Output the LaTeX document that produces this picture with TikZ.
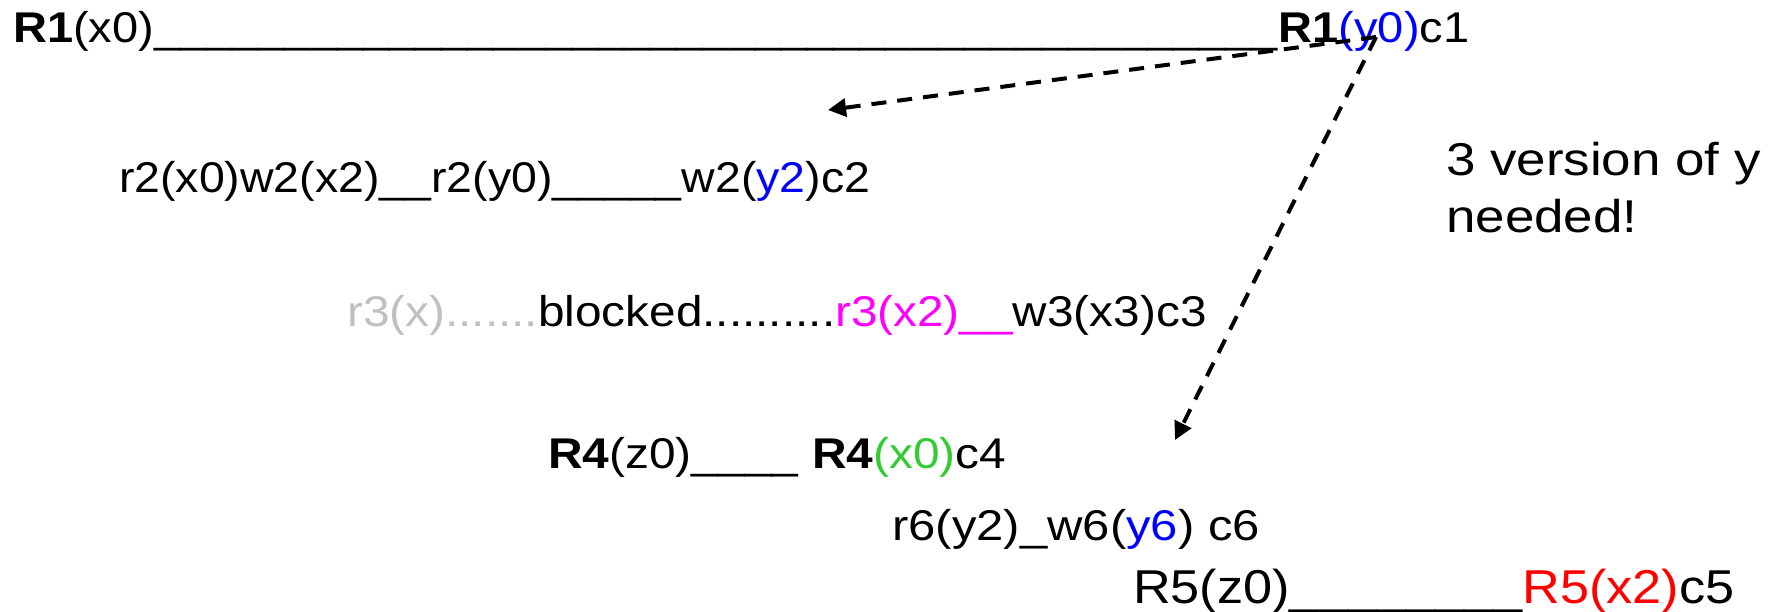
\documentclass[tikz,border=0pt]{standalone}
\usepackage{fontspec}
\setmainfont{Liberation Sans}
\usetikzlibrary{arrows.meta}

\definecolor{verblue}{RGB}{0,0,255}
\definecolor{vergreen}{RGB}{51,204,51}
\definecolor{vermagenta}{RGB}{255,0,255}
\definecolor{vergray}{RGB}{192,192,192}
\definecolor{verred}{RGB}{255,0,0}

% a run of underscores
\newcount\uscount
\newcommand{\uscores}[1]{\uscount=#1\relax\loop\ifnum\uscount>0 \_\advance\uscount by -1\relax\repeat}
% schedule lines: horizontal stretch, font size, text
\newcommand{\sched}[3]{\scalebox{#1}[1]{\fontsize{#2}{#2}\selectfont #3}}
\newcommand{\note}[1]{\scalebox{1.15}[1]{\fontsize{46}{56}\selectfont #1}}

\begin{document}
\begin{tikzpicture}[x=1pt,y=-1pt,
  line/.style={inner sep=0pt,anchor=base west},
  dep/.style={line width=4pt,dash pattern=on 15pt off 11pt,
    -{Triangle[length=18pt,width=18pt]}}]
\useasboundingbox (0,0) rectangle (1771,611);

\node[line] (t1) at (13,42) {\sched{1.093}{43}{\textbf{R1}(x0)\uscores{43}\textbf{R1}\textcolor{verblue}{(y0)}c1}};
\node[line] (t2) at (119,192) {\sched{1.08}{43}{r2(x0)w2(x2)\uscores{2}r2(y0)\uscores{5}w2(\textcolor{verblue}{y2})c2}};
\node[line] (t3) at (347,326) {\sched{1.11}{43}{\textcolor{vergray}{r3(x).......}blocked..........\textcolor{vermagenta}{r3(x2)\uscores{2}}w3(x3)c3}};
\node[line] (t4) at (548,468) {\sched{1.113}{43}{\textbf{R4}(z0)\uscores{4} \textbf{R4}\textcolor{vergreen}{(x0)}c4}};
\node[line] (t6) at (892,540) {\sched{1.14}{43}{r6(y2)\_w6(\textcolor{verblue}{y6}) c6}};
\node[line] (t5) at (1133,603) {\sched{1.10}{47.5}{R5(z0)\uscores{8}\textcolor{verred}{R5(x2)}c5}};

\node[line] (n1) at (1446,175) {\note{3 version of y}};
\node[line] (n2) at (1446,232) {\note{needed!}};

\coordinate (src) at (1376,37);
\coordinate (tipA) at (828,110);
\coordinate (tipB) at (1175,440);
\draw[dep] (src) -- (tipA);
\draw[dep] (src) -- (tipB);
\end{tikzpicture}
\end{document}
